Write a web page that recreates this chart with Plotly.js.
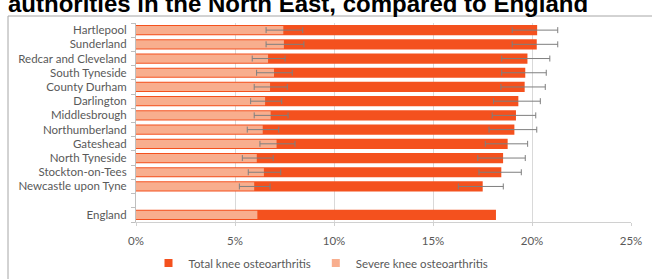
<!DOCTYPE html>
<html>
<head>
<meta charset="utf-8">
<script src="https://cdn.plot.ly/plotly-3.0.1.min.js"></script>
<style>html,body{margin:0;padding:0;background:#fff;}#chart{width:652px;height:279px;}</style>
</head>
<body>
<div id="chart"></div>
<script>
var categories = ['Hartlepool','Sunderland','Redcar and Cleveland','South Tyneside','County Durham','Darlington','Middlesbrough','Northumberland','Gateshead','North Tyneside','Stockton-on-Tees','Newcastle upon Tyne',' ','England'];
var totalValues = [20.26,20.24,19.77,19.66,19.63,19.31,19.19,19.11,18.77,18.54,18.45,17.51,null,18.18];
var totalLower  = [19.00,19.00,18.47,18.47,18.43,18.06,17.99,17.83,17.64,17.26,17.32,16.28,null,null];
var totalUpper  = [21.30,21.30,20.90,20.72,20.67,20.42,20.19,20.24,19.78,19.66,19.46,18.55,null,null];
var severeValues = [7.44,7.47,6.67,6.97,6.77,6.52,6.80,6.40,7.10,6.10,6.46,5.97,null,6.13];
var severeLower  = [6.57,6.57,5.87,6.09,5.97,5.79,5.97,5.62,6.26,5.37,5.67,5.22,null,null];
var severeUpper  = [8.42,8.48,7.53,7.89,7.64,7.36,7.68,7.21,8.03,6.93,7.31,6.77,null,null];
var tickValues = [0,5,10,15,20,25];
var tickLabels = ['0%','5%','10%','15%','20%','25%'];
var seriesNames = ['Total knee osteoarthritis','Severe knee osteoarthritis'];
var titleText = 'authorities in the North East, compared to England';

var cTotal = '#F4511E', cSevere = '#F8AE8E', cErr = '#7F7F7F';
function plus(v, hi){ return v.map(function(d,i){ return (d==null||hi[i]==null) ? NaN : hi[i]-d; }); }
function minus(v, lo){ return v.map(function(d,i){ return (d==null||lo[i]==null) ? NaN : d-lo[i]; }); }

var font = {family:'Lato, "Open Sans", sans-serif', size:11.5, color:'#595959'};

var traces = [
  {type:'bar', orientation:'h', y:categories, x:totalValues, width:0.72,
   marker:{color:cTotal}, showlegend:false, name:seriesNames[0],
   error_x:{type:'data', array:plus(totalValues,totalUpper), arrayminus:minus(totalValues,totalLower), color:cErr, thickness:1, width:3}},
  {type:'bar', orientation:'h', y:categories, x:severeValues, width:0.58,
   marker:{color:cSevere}, showlegend:false, name:seriesNames[1],
   error_x:{type:'data', array:plus(severeValues,severeUpper), arrayminus:minus(severeValues,severeLower), color:cErr, thickness:1, width:3}},
  {type:'scatter', mode:'markers', x:[null], y:[null], name:seriesNames[0], marker:{symbol:'square', size:8, color:cTotal}},
  {type:'scatter', mode:'markers', x:[null], y:[null], name:seriesNames[1], marker:{symbol:'square', size:8, color:cSevere}}
];

var layout = {
  width:652, height:279,
  margin:{l:136, r:21, t:23, b:57, pad:0, autoexpand:false},
  paper_bgcolor:'#ffffff', plot_bgcolor:'#ffffff',
  font:font,
  barmode:'overlay',
  showlegend:true,
  title:{text:'<b>'+titleText+'</b>', font:{family:'"Liberation Sans", Arial, sans-serif', size:24, color:'#000000'},
         x:8/652, xref:'container', xanchor:'left', y:1-12/279, yref:'container', yanchor:'bottom'},
  xaxis:{range:[0,25], tickvals:tickValues, ticktext:tickLabels, showgrid:true, gridcolor:'#D9D9D9', gridwidth:1,
         zeroline:false, showline:true, linecolor:'#D0D0D0', linewidth:1, ticks:'outside', ticklen:3, tickcolor:'#D0D0D0',
         ticklabelstandoff:5, tickfont:font, fixedrange:true},
  yaxis:{type:'category', categoryorder:'array', categoryarray:categories, autorange:'reversed',
         tickmode:'array', tickvals:categories, ticktext:categories,
         showline:true, linecolor:'#BFBFBF', linewidth:1, ticks:'outside', ticklen:4, tickcolor:'#BFBFBF',
         tickson:'boundaries', showgrid:false, zeroline:false, ticklabelstandoff:6, tickfont:font, fixedrange:true},
  legend:{orientation:'h', xref:'container', yref:'container', x:321/652, xanchor:'center', y:1-263/279, yanchor:'middle', font:font,
          bgcolor:'rgba(0,0,0,0)', itemclick:false},
  shapes:[{type:'rect', xref:'paper', yref:'paper', x0:(8-136)/495, x1:(660-136)/495, y0:(222-290)/199, y1:1+7/199,
           line:{color:'#A6A6A6', width:1}, fillcolor:'rgba(0,0,0,0)', layer:'below'}]
};

Plotly.newPlot('chart', traces, layout, {displayModeBar:false, staticPlot:true});
</script>
</body>
</html>
